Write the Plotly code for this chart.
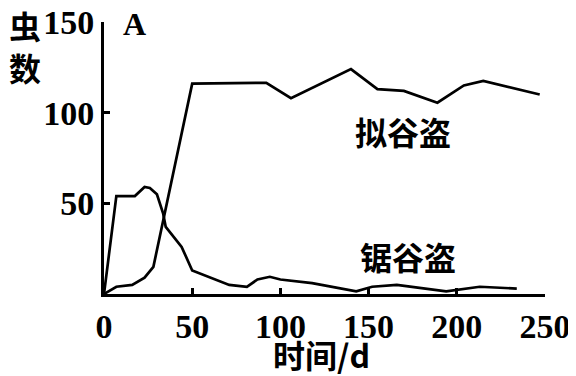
import plotly.graph_objects as go

# 拟谷盗 (upper series)
x_nigu = [0, 7, 16, 23, 28, 50, 92, 106, 140, 155, 170, 189, 204, 215, 247]
y_nigu = [0, 4, 5, 9, 15, 116, 116.5, 108, 124, 113, 112, 105.5, 115, 117.5, 110]

# 锯谷盗 (lower series)
x_jugu = [0, 7, 17.5, 23, 26, 30, 33.5, 35, 44, 50, 71, 81, 87, 94, 100, 118, 143, 152, 166, 179, 194, 213, 234]
y_jugu = [0, 54, 54, 59, 58.5, 55, 44.5, 37, 26, 13, 5, 4, 8, 9.5, 8, 6, 1.5, 4, 5, 3.5, 1.5, 4, 3]

x_ticks = [0, 50, 100, 150, 200, 250]
y_ticks = [50, 100, 150]

serif = "Liberation Serif"
cjk = "Noto Sans CJK SC"

OFF = 8  # page body margin
W, H = 576 - OFF, 376 - OFF
L, R, T, B = 104 - OFF, 545 - OFF, 22 - OFF, 294 - OFF

fig = go.Figure()
fig.add_trace(go.Scatter(x=x_nigu, y=y_nigu, mode="lines",
                         line=dict(color="black", width=2.7), showlegend=False))
fig.add_trace(go.Scatter(x=x_jugu, y=y_jugu, mode="lines",
                         line=dict(color="black", width=2.7), showlegend=False))

tickfont = dict(family=serif, size=34, color="black", weight="bold")
fig.update_layout(
    width=W, height=H,
    margin=dict(l=L, r=W - R, t=T, b=H - B, autoexpand=False),
    paper_bgcolor="white", plot_bgcolor="white",
    xaxis=dict(range=[0, 250], tickvals=x_ticks, ticks="inside", ticklen=6, tickwidth=2.5,
               tickcolor="black", showline=True, linecolor="black", linewidth=2.7,
               showgrid=False, zeroline=False, automargin=False, tickfont=tickfont,
               ticklabeloverflow="allow"),
    yaxis=dict(range=[0, 150], tickvals=y_ticks, ticks="inside", ticklen=6, tickwidth=2.5,
               tickcolor="black", showline=True, linecolor="black", linewidth=2.7,
               showgrid=False, zeroline=False, automargin=False, tickfont=tickfont,
               ticklabeloverflow="allow"),
)

cjkfont = dict(family=cjk, size=32, weight="bold")
ann = [
    dict(text="虫<br>数", x=25, y=46, font=cjkfont),
    dict(text="<b>A</b>", x=134, y=24, font=dict(family=serif, size=32)),
    dict(text="拟谷盗", x=403, y=131, font=cjkfont),
    dict(text="锯谷盗", x=408, y=256, font=cjkfont),
    dict(text="时间/d", x=321, y=354, font=cjkfont),
]
for a in ann:
    px, py = a["x"] - OFF, a["y"] - OFF
    fig.add_annotation(text=a["text"], x=(px - L) / (R - L), y=(B - py) / (B - T),
                       xref="paper", yref="paper", showarrow=False,
                       xanchor="center", yanchor="middle",
                       font=dict(color="black", **a["font"]))

fig.write_html("out.html")
